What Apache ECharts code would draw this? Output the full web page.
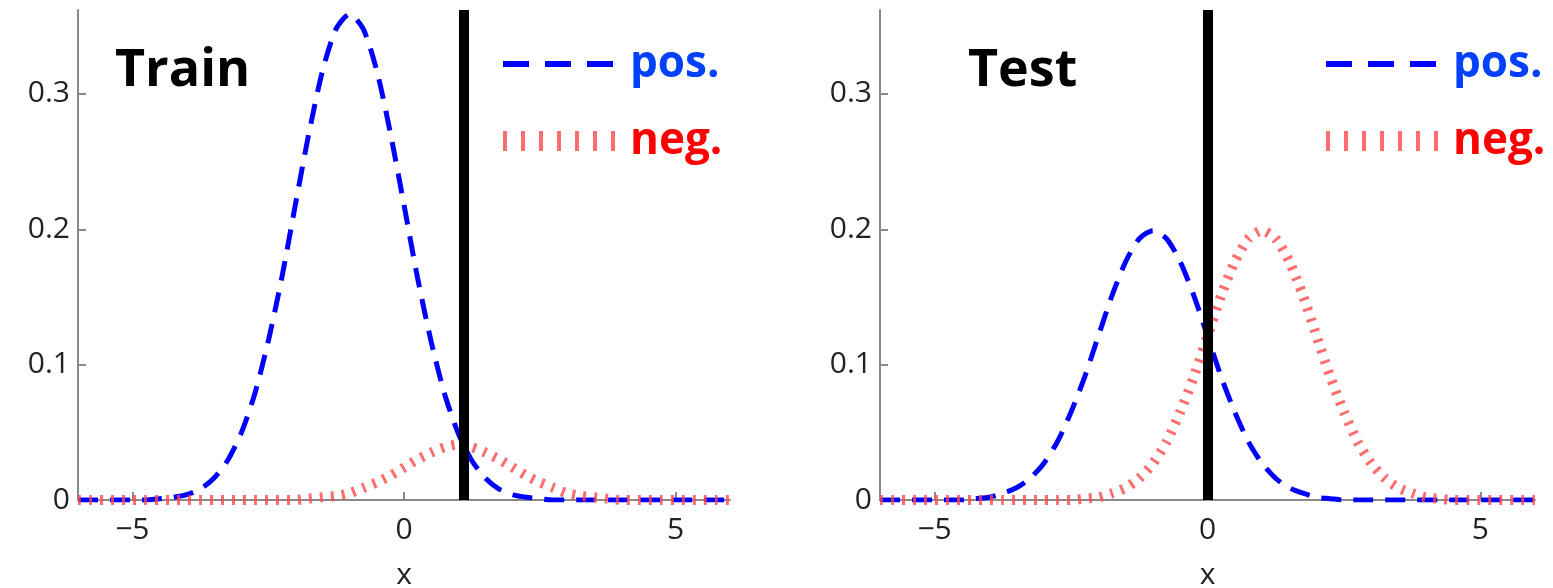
<!DOCTYPE html>
<html>
<head>
<meta charset="utf-8">
<script src="https://cdn.jsdelivr.net/npm/echarts@6/dist/echarts.min.js"></script>
<style>
html, body { margin: 0; padding: 0; background: #fff; }
#chart { width: 1553px; height: 588px; }
</style>
</head>
<body>
<div id="chart"></div>
<script>
// x grid shared by all curves
const xs = [-6, -5.75, -5.5, -5.25, -5, -4.75, -4.5, -4.25, -4, -3.75, -3.5, -3.25, -3, -2.75, -2.5, -2.25,
  -2, -1.75, -1.5, -1.25, -1, -0.75, -0.5, -0.25, 0, 0.25, 0.5, 0.75, 1, 1.25, 1.5, 1.75,
  2, 2.25, 2.5, 2.75, 3, 3.25, 3.5, 3.75, 4, 4.25, 4.5, 4.75, 5, 5.25, 5.5, 5.75, 6];

// Train panel
const trainPos = [0, 0, 0, 0, 0, 0, 0.001, 0.002, 0.004, 0.008, 0.016, 0.029, 0.049, 0.078, 0.117, 0.164,
  0.218, 0.271, 0.317, 0.348, 0.359, 0.348, 0.317, 0.271, 0.218, 0.164, 0.117, 0.078, 0.049, 0.029, 0.016, 0.008,
  0.004, 0.002, 0.001, 0, 0, 0, 0, 0, 0, 0, 0, 0, 0, 0, 0, 0, 0];
const trainNeg = [0, 0, 0, 0, 0, 0, 0, 0, 0, 0, 0, 0, 0, 0, 0, 0,
  0, 0.001, 0.002, 0.003, 0.005, 0.009, 0.013, 0.018, 0.024, 0.030, 0.035, 0.039, 0.041, 0.039, 0.035, 0.030,
  0.024, 0.018, 0.013, 0.009, 0.005, 0.003, 0.002, 0.001, 0, 0, 0, 0, 0, 0, 0, 0, 0];

// Test panel
const testPos = [0, 0, 0, 0, 0, 0, 0, 0.001, 0.002, 0.005, 0.009, 0.016, 0.027, 0.043, 0.065, 0.091,
  0.121, 0.151, 0.176, 0.193, 0.199, 0.193, 0.176, 0.151, 0.121, 0.091, 0.065, 0.043, 0.027, 0.016, 0.009, 0.005,
  0.002, 0.001, 0, 0, 0, 0, 0, 0, 0, 0, 0, 0, 0, 0, 0, 0, 0];
const testNeg = [0, 0, 0, 0, 0, 0, 0, 0, 0, 0, 0, 0, 0, 0, 0, 0.001,
  0.002, 0.005, 0.009, 0.016, 0.027, 0.043, 0.065, 0.091, 0.121, 0.151, 0.176, 0.193, 0.199, 0.193, 0.176, 0.151,
  0.121, 0.091, 0.065, 0.043, 0.027, 0.016, 0.009, 0.005, 0.002, 0.001, 0, 0, 0, 0, 0, 0, 0];

const thresholds = [1.1, 0];
const panelTitles = ['Train', 'Test'];
const xTicks = [-5, 0, 5];
const yTicks = [0, 0.1, 0.2, 0.3];

const FONT = 'Open Sans';
const BLUE = '#0000ff';
const RED = '#ff4a4a';

function pairs(ys) {
  return xs.map((x, i) => [x, ys[i]]);
}

const chart = echarts.init(document.getElementById('chart'));

const grids = [
  { left: 78, top: 10, width: 652, height: 490, outerBoundsMode: 'none', containLabel: false },
  { left: 880, top: 10, width: 655, height: 490, outerBoundsMode: 'none', containLabel: false }
];

function xAxis(i) {
  return {
    type: 'value', gridIndex: i, min: -6, max: 6,
    name: 'x', nameLocation: 'middle', nameGap: 60,
    nameTextStyle: { fontFamily: FONT, fontSize: 30, color: '#222' },
    axisLine: { onZero: false, lineStyle: { color: '#8a8a8a', width: 2 } },
    axisTick: { inside: true, length: 8, customValues: xTicks, lineStyle: { color: '#8a8a8a', width: 2 } },
    axisLabel: {
      customValues: xTicks, margin: 15, fontFamily: FONT, fontSize: 30, color: '#222',
      formatter: v => (v < 0 ? '\u2212' + Math.abs(v) : String(v))
    },
    splitLine: { show: false }
  };
}

function yAxis(i) {
  return {
    type: 'value', gridIndex: i, min: 0, max: 0.362,
    axisLine: { show: true, onZero: false, lineStyle: { color: '#8a8a8a', width: 2 } },
    axisTick: { show: true, inside: true, length: 8, customValues: yTicks, lineStyle: { color: '#8a8a8a', width: 2 } },
    axisLabel: { customValues: yTicks, margin: 8, fontFamily: FONT, fontSize: 30, color: '#222', formatter: v => String(v) },
    splitLine: { show: false }
  };
}

function curves(i, pos, neg) {
  return [
    {
      name: 'pos.', type: 'line', xAxisIndex: i, yAxisIndex: i, symbol: 'none', z: 2, smooth: 0.25,
      data: pairs(pos), color: BLUE,
      lineStyle: { color: BLUE, width: 5, type: [20, 12] }
    },
    {
      name: 'neg.', type: 'line', xAxisIndex: i, yAxisIndex: i, symbol: 'none', z: 3, smooth: 0.25,
      data: pairs(neg), color: RED,
      lineStyle: { color: RED, width: 10, type: [3, 8], opacity: 0.8, cap: 'butt' }
    },
    {
      type: 'line', xAxisIndex: i, yAxisIndex: i, data: [], z: 5,
      markLine: {
        silent: true, symbol: 'none', label: { show: false },
        lineStyle: { color: '#000', width: 10, type: 'solid' },
        data: [{ xAxis: thresholds[i] }]
      }
    }
  ];
}

function legend(left) {
  return {
    left: left, top: 34, orient: 'vertical', itemWidth: 122, itemHeight: 20, itemGap: 27,
    selectedMode: false,
    textStyle: { fontFamily: FONT, fontSize: 44, fontWeight: 'bold', lineHeight: 50 },
    data: [
      {
        name: 'pos.', textStyle: { color: '#0040ff' },
        itemStyle: { opacity: 0 },
        lineStyle: { color: BLUE, width: 6, type: [26, 16] }
      },
      {
        name: 'neg.', textStyle: { color: '#ff0000' },
        itemStyle: { opacity: 0 },
        lineStyle: { color: RED, width: 20, type: [4, 14], opacity: 0.8 }
      }
    ]
  };
}

chart.setOption({
  animation: false,
  textStyle: { fontFamily: FONT },
  title: [
    { text: panelTitles[0], left: 110, top: 40, textStyle: { fontFamily: FONT, fontSize: 52, fontWeight: 'bold', color: '#000' } },
    { text: panelTitles[1], left: 963, top: 40, textStyle: { fontFamily: FONT, fontSize: 52, fontWeight: 'bold', color: '#000' } }
  ],
  legend: [legend(488), legend(1311)],
  grid: grids,
  xAxis: [xAxis(0), xAxis(1)],
  yAxis: [yAxis(0), yAxis(1)],
  series: [].concat(curves(0, trainPos, trainNeg), curves(1, testPos, testNeg))
});
window.onresize = chart.resize;
</script>
</body>
</html>
